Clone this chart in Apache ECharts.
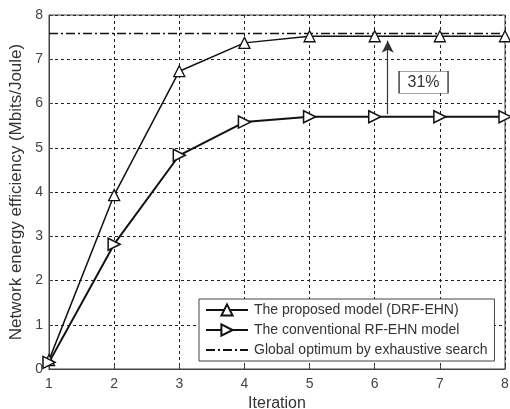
<!DOCTYPE html>
<html>
<head>
<meta charset="utf-8">
<script src="https://cdn.jsdelivr.net/npm/echarts@6/dist/echarts.min.js"></script>
<style>
  html, body { margin: 0; padding: 0; background: #fff; }
  #main { width: 510px; height: 409px; }
</style>
</head>
<body>
<div id="main"></div>
<script>
var iterations = [1, 2, 3, 4, 5, 6, 7, 8];
var proposed = [0.2, 3.93, 6.73, 7.37, 7.52, 7.52, 7.52, 7.52];
var conventional = [0.15, 2.82, 4.83, 5.58, 5.7, 5.7, 5.7, 5.7];
var globalOpt = 7.58;
var gainLabel = '31%';
var names = ['The proposed model (DRF-EHN)', 'The conventional RF-EHN model', 'Global optimum by exhaustive search'];

function pairs(xs, ys) {
    var out = [];
    for (var i = 0; i < xs.length; i++) out.push([xs[i], ys[i]]);
    return out;
}

var myChart = echarts.init(document.getElementById('main'));
var font = 'Liberation Sans';

var option = {
    backgroundColor: '#fff',
    animation: false,
    textStyle: { fontFamily: font },
    grid: {
        left: 49, right: 5, top: 15, bottom: 40,
        outerBoundsMode: 'none',
        containLabel: false,
        show: true, borderColor: '#444', borderWidth: 1
    },
    legend: {
        orient: 'vertical',
        left: 199, top: 299,
        padding: [4, 7, 4, 6],
        itemGap: 6,
        itemWidth: 42,
        itemHeight: 14,
        backgroundColor: '#fff',
        borderColor: '#444',
        borderWidth: 1,
        borderRadius: 0,
        textStyle: { fontFamily: font, fontSize: 14, color: '#333', padding: [0, 0, 0, 1] },
        data: [
            { name: names[0] },
            { name: names[1] },
            { name: names[2], itemStyle: { color: 'rgba(0,0,0,0)', borderWidth: 0 } }
        ]
    },
    xAxis: {
        type: 'value',
        min: 1, max: 8, interval: 1,
        name: 'Iteration',
        nameLocation: 'middle',
        nameGap: 20,
        nameTextStyle: { fontFamily: font, fontSize: 16, color: '#333' },
        axisLine: { lineStyle: { color: '#444' } },
        axisTick: { inside: true, length: 4, lineStyle: { color: '#444' } },
        axisLabel: { fontFamily: font, fontSize: 14, color: '#444', margin: 8 },
        splitLine: { show: true, lineStyle: { color: '#222', type: [3, 3], width: 1 } }
    },
    yAxis: {
        type: 'value',
        min: 0, max: 8, interval: 1,
        name: 'Network energy efficiency (Mbits/Joule)',
        nameLocation: 'middle',
        nameGap: 23,
        nameTextStyle: { fontFamily: font, fontSize: 17, color: '#333' },
        axisLine: { show: true, lineStyle: { color: '#444' } },
        axisTick: { show: true, inside: true, length: 4, lineStyle: { color: '#444' } },
        axisLabel: { fontFamily: font, fontSize: 14, color: '#444', margin: 6 },
        splitLine: { show: true, lineStyle: { color: '#222', type: [3, 3], width: 1 } }
    },
    series: [
        {
            name: names[0],
            type: 'line',
            data: pairs(iterations, proposed),
            symbol: 'triangle',
            symbolSize: 11,
            showAllSymbol: true,
            lineStyle: { color: '#111', width: 1.5 },
            itemStyle: { color: '#fff', borderColor: '#111', borderWidth: 1.3 },
            z: 4
        },
        {
            name: names[1],
            type: 'line',
            data: pairs(iterations, conventional),
            symbol: 'triangle',
            symbolRotate: -90,
            symbolSize: 12,
            showAllSymbol: true,
            lineStyle: { color: '#111', width: 2 },
            itemStyle: { color: '#fff', borderColor: '#111', borderWidth: 1.5 },
            z: 4,
            markLine: {
                silent: true,
                symbol: ['none', 'arrow'],
                symbolSize: [9, 12],
                label: { show: false },
                lineStyle: { color: '#333', width: 1.2, type: 'solid' },
                data: [[{ coord: [6.2, 5.76] }, { coord: [6.2, 7.42] }]]
            },
            markPoint: {
                silent: true,
                symbol: 'rect',
                symbolSize: [49, 22],
                itemStyle: { color: '#fff', borderColor: '#444', borderWidth: 1 },
                label: { show: true, formatter: gainLabel, fontFamily: font, fontSize: 16, color: '#333' },
                data: [{ coord: [6.75, 6.48] }]
            }
        },
        {
            name: names[2],
            type: 'line',
            data: [[1, globalOpt], [8, globalOpt]],
            symbol: 'none',
            lineStyle: { color: '#111', width: 1.5, type: [9, 3, 2, 3] },
            itemStyle: { color: '#111' },
            z: 3
        }
    ]
};

myChart.setOption(option);
</script>
</body>
</html>
